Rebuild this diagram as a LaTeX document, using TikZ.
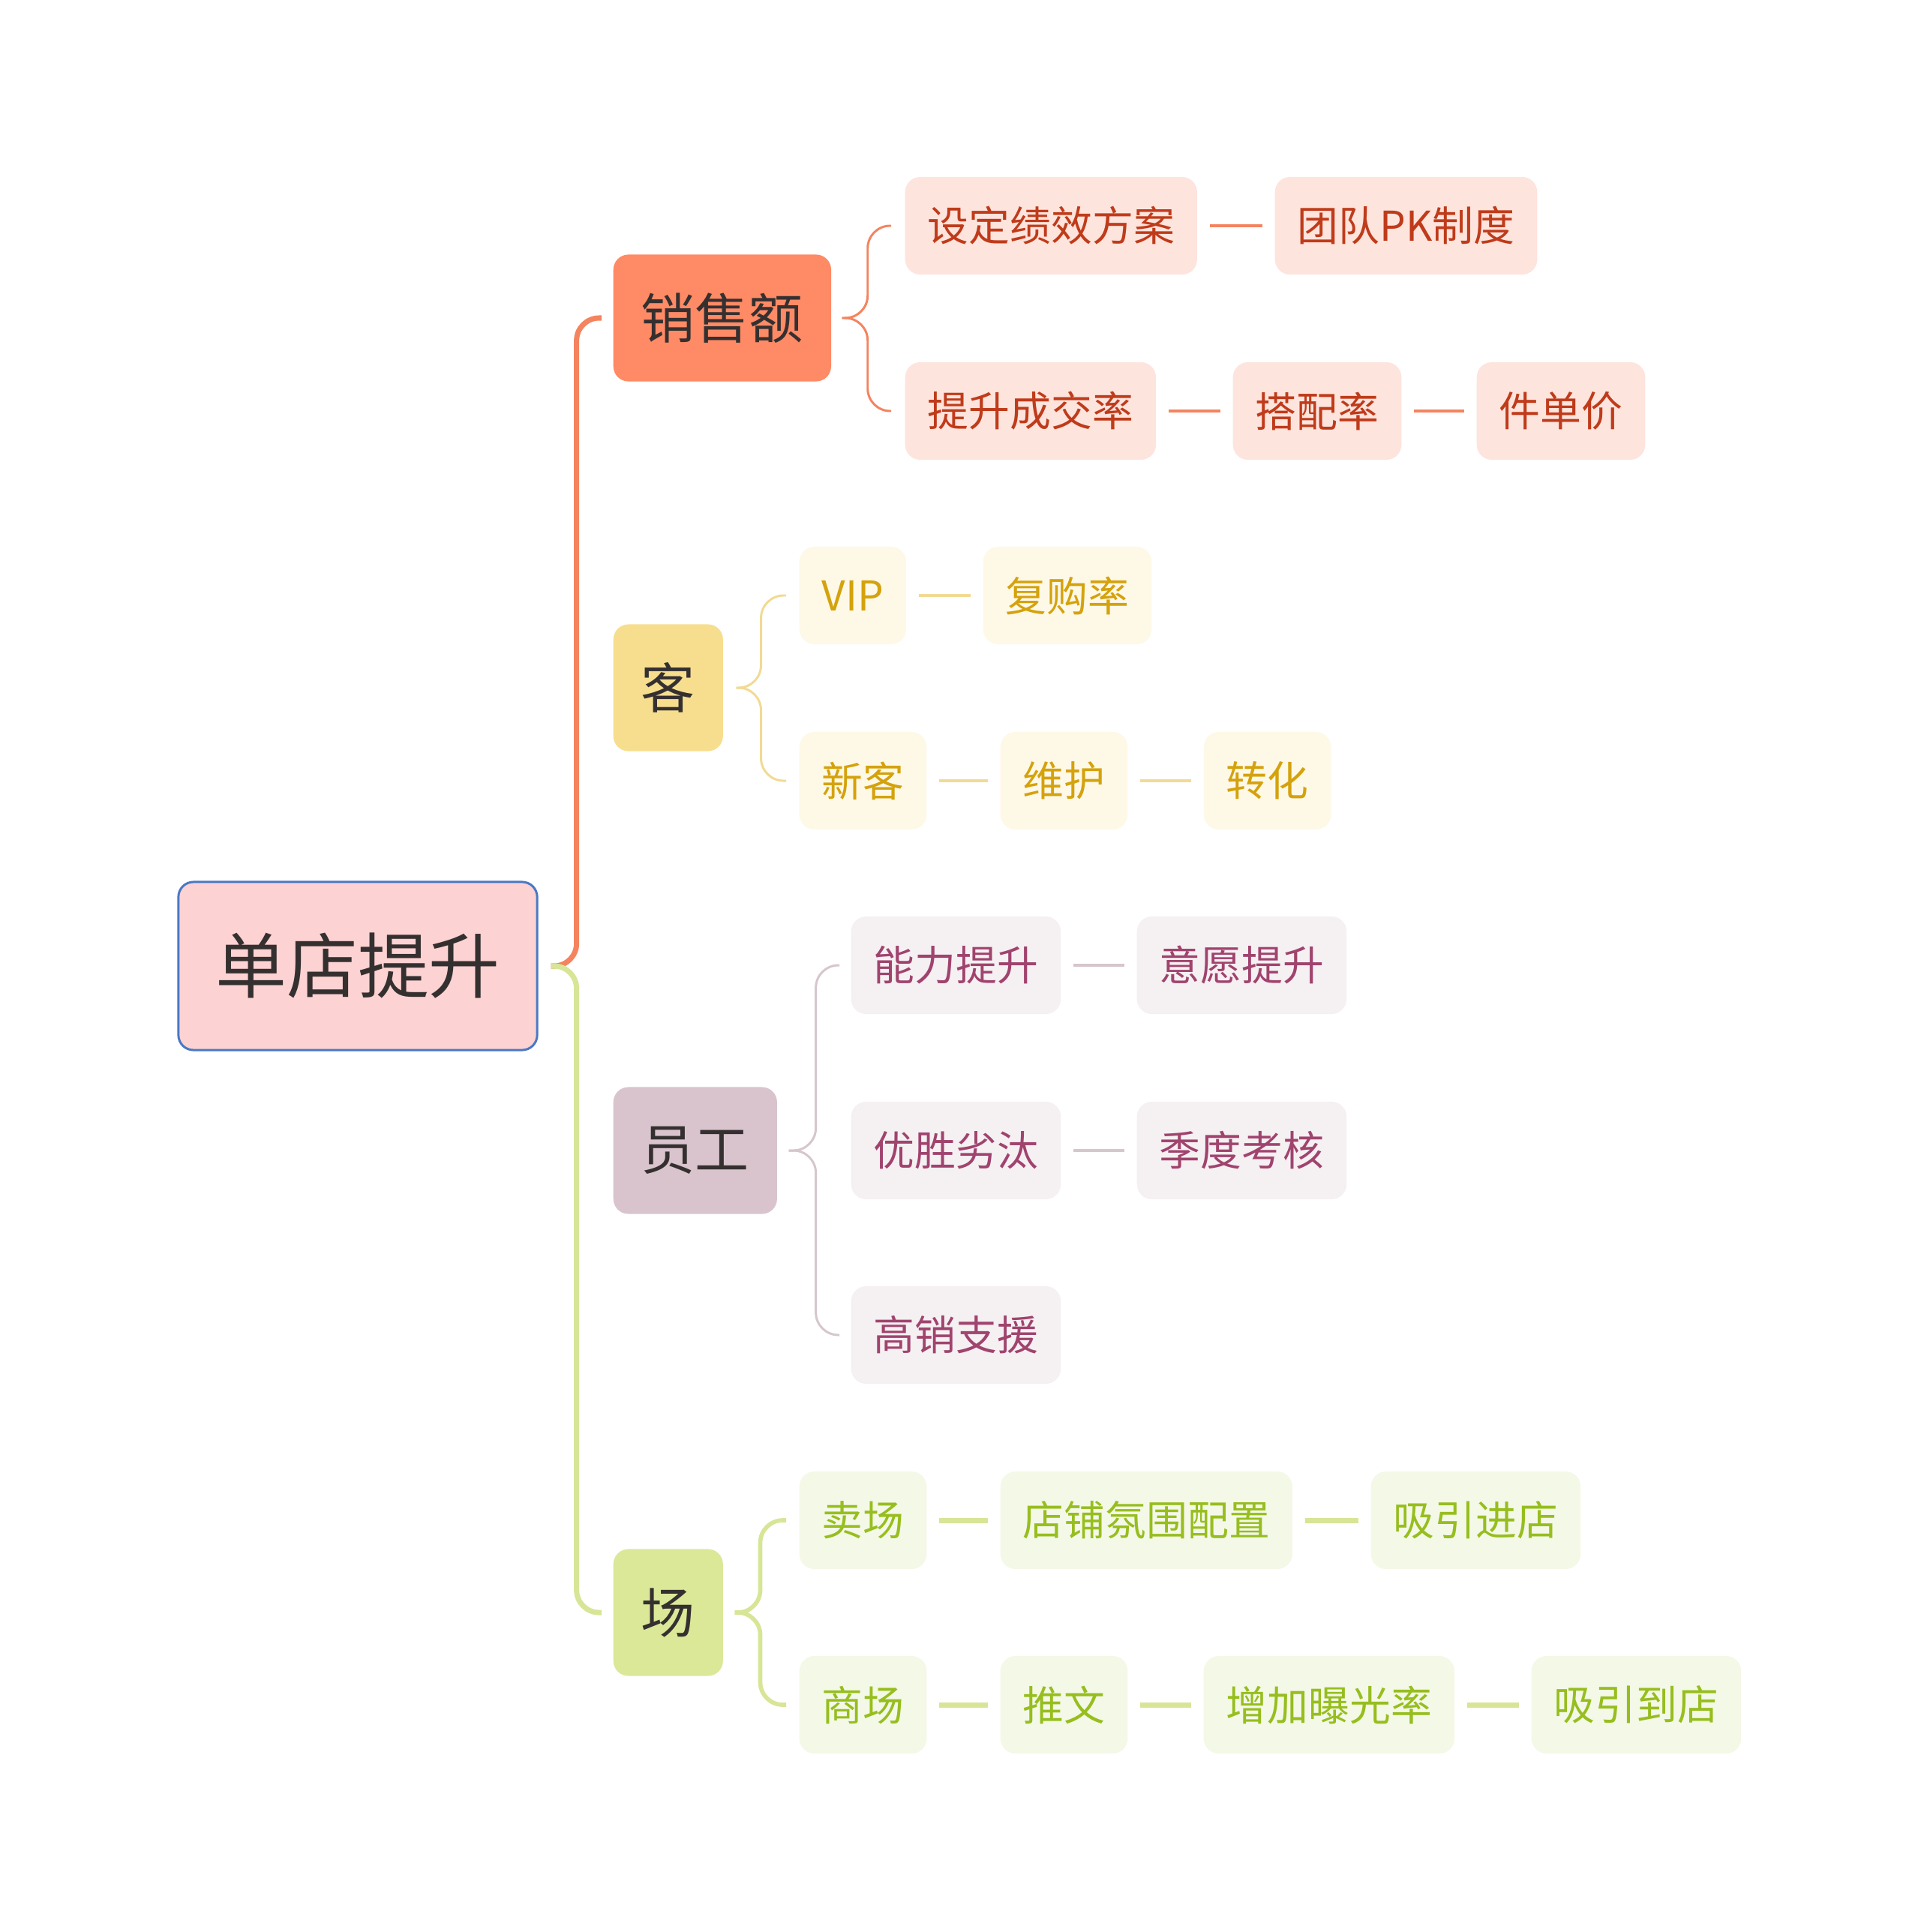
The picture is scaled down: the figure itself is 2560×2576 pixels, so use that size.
\documentclass[tikz,border=0pt]{standalone}
\usepackage{fontspec}
\setmainfont{Noto Sans CJK SC}
\definecolor{rootfill}{HTML}{FDD2D2}
\definecolor{rootline}{HTML}{4A78C5}
\definecolor{textdark}{HTML}{353030}
\definecolor{salesfill}{HTML}{FF8A66}
\definecolor{salesleaf}{HTML}{FDE4DD}
\definecolor{salestext}{HTML}{BF3B1A}
\definecolor{salesline}{HTML}{F4845F}
\definecolor{kefill}{HTML}{F7DE8F}
\definecolor{keleaf}{HTML}{FEF8E7}
\definecolor{ketext}{HTML}{D4A20C}
\definecolor{keline}{HTML}{F2DA94}
\definecolor{stafffill}{HTML}{D9C4CE}
\definecolor{staffleaf}{HTML}{F5F0F2}
\definecolor{stafftext}{HTML}{A0436E}
\definecolor{staffline}{HTML}{D6C6CD}
\definecolor{fieldfill}{HTML}{DAE898}
\definecolor{fieldleaf}{HTML}{F4F8E7}
\definecolor{fieldtext}{HTML}{96BE1E}
\definecolor{fieldline}{HTML}{D7E597}
\begin{document}
\begin{tikzpicture}[x=0.01cm,y=-0.01cm]
    \tikzstyle{root}=[draw=rootline,line width=0.85pt,fill=rootfill,rounded corners=2mm,minimum width=4.78cm,minimum height=2.24cm,text=textdark,font=\fontsize{27pt}{30pt}\selectfont]
    \tikzstyle{topic}=[anchor=west,rounded corners=2mm,inner xsep=0.37cm,minimum height=1.69cm,text=textdark,font=\fontsize{20.5pt}{24pt}\selectfont]
    \tikzstyle{leaf}=[anchor=west,rounded corners=2mm,inner xsep=0.3cm,minimum height=1.3cm,font=\fontsize{15.6pt}{18pt}\selectfont]
    \tikzstyle{sleaf}=[leaf,fill=salesleaf,text=salestext]
    \tikzstyle{kleaf}=[leaf,fill=keleaf,text=ketext]
    \tikzstyle{tleaf}=[leaf,fill=staffleaf,text=stafftext]
    \tikzstyle{fleaf}=[leaf,fill=fieldleaf,text=fieldtext]
    \tikzstyle{brace}=[rounded corners=3mm]
    \tikzstyle{link}=[shorten >=0.16cm,shorten <=0.16cm]

    \useasboundingbox (0,0) rectangle (2560,2576);

    \node[root] (root) at (477,1288) {单店提升};
    \node[topic,fill=salesfill] (sales) at (817,424) {销售额};
    \node[topic,fill=kefill] (ke) at (817,917) {客};
    \node[topic,fill=stafffill] (staff) at (817,1534) {员工};
    \node[topic,fill=fieldfill] (field) at (817,2150) {场};

    \draw[brace,salesline,line width=2pt] ([xshift=0.17cm]root.east) -- ++(34,0) |- ([xshift=-0.15cm]sales.west);
    \draw[brace,fieldline,line width=2pt] ([xshift=0.17cm]root.east) -- ++(34,0) |- ([xshift=-0.15cm]field.west);

    % 销售额
    \node[sleaf] (sa1) at (1206,301) {设定绩效方案};
    \node[sleaf] (sa1b) at (1699,301) {团队PK制度};
    \node[sleaf] (sa2) at (1206,548) {提升成交率};
    \node[sleaf] (sa2b) at (1643,548) {搭配率};
    \node[sleaf] (sa2c) at (1968,548) {件单价};

    \draw[brace,salesline,line width=0.85pt] ([xshift=0.14cm]sales.east) -- ++(34,0) |- ([xshift=-0.18cm]sa1.west);
    \draw[brace,salesline,line width=0.85pt] ([xshift=0.14cm]sales.east) -- ++(34,0) |- ([xshift=-0.18cm]sa2.west);
    \draw[link,salesline,line width=1.1pt] (sa1) -- (sa1b);
    \draw[link,salesline,line width=1.1pt] (sa2) -- (sa2b);
    \draw[link,salesline,line width=1.1pt] (sa2b) -- (sa2c);

    % 客
    \node[kleaf] (k1) at (1065,794) {VIP};
    \node[kleaf] (k1b) at (1310,794) {复购率};
    \node[kleaf] (k2) at (1065,1041) {新客};
    \node[kleaf] (k2b) at (1333,1041) {维护};
    \node[kleaf] (k2c) at (1604,1041) {转化};

    \draw[brace,keline,line width=0.85pt] ([xshift=0.17cm]ke.east) -- ++(33,0) |- ([xshift=-0.17cm]k1.west);
    \draw[brace,keline,line width=0.85pt] ([xshift=0.17cm]ke.east) -- ++(33,0) |- ([xshift=-0.17cm]k2.west);
    \draw[link,keline,line width=1.4pt] (k1) -- (k1b);
    \draw[link,keline,line width=1.4pt] (k2) -- (k2b);
    \draw[link,keline,line width=1.4pt] (k2b) -- (k2c);

    % 员工
    \node[tleaf] (st1) at (1134,1287) {能力提升};
    \node[tleaf] (st1b) at (1515,1287) {意愿提升};
    \node[tleaf] (st2) at (1134,1534) {优胜劣汰};
    \node[tleaf] (st2b) at (1515,1534) {季度考核};
    \node[tleaf] (st3) at (1134,1780) {高销支援};

    \draw[brace,staffline,line width=0.85pt] ([xshift=0.15cm]staff.east) -- ++(36,0) |- ([xshift=-0.15cm]st1.west);
    \draw[brace,staffline,line width=0.85pt] ([xshift=0.15cm]staff.east) -- ++(36,0) |- ([xshift=-0.15cm]st3.west);
    \draw[link,staffline,line width=1pt] (st1) -- (st1b);
    \draw[link,staffline,line width=1pt] (st2) -- (st2b);

    % 场
    \node[fleaf] (f1) at (1065,2027) {卖场};
    \node[fleaf] (f1b) at (1333,2027) {店铺氛围配置};
    \node[fleaf] (f1c) at (1827,2027) {吸引进店};
    \node[fleaf] (f2) at (1065,2273) {商场};
    \node[fleaf] (f2b) at (1333,2273) {推文};
    \node[fleaf] (f2c) at (1604,2273) {增加曝光率};
    \node[fleaf] (f2d) at (2041,2273) {吸引到店};

    \draw[brace,fieldline,line width=1.6pt] ([xshift=0.15cm]field.east) -- ++(34,0) |- ([xshift=-0.17cm]f1.west);
    \draw[brace,fieldline,line width=1.6pt] ([xshift=0.15cm]field.east) -- ++(34,0) |- ([xshift=-0.17cm]f2.west);
    \draw[link,fieldline,line width=2pt] (f1) -- (f1b);
    \draw[link,fieldline,line width=2pt] (f1b) -- (f1c);
    \draw[link,fieldline,line width=2pt] (f2) -- (f2b);
    \draw[link,fieldline,line width=2pt] (f2b) -- (f2c);
    \draw[link,fieldline,line width=2pt] (f2c) -- (f2d);
\end{tikzpicture}
\end{document}
